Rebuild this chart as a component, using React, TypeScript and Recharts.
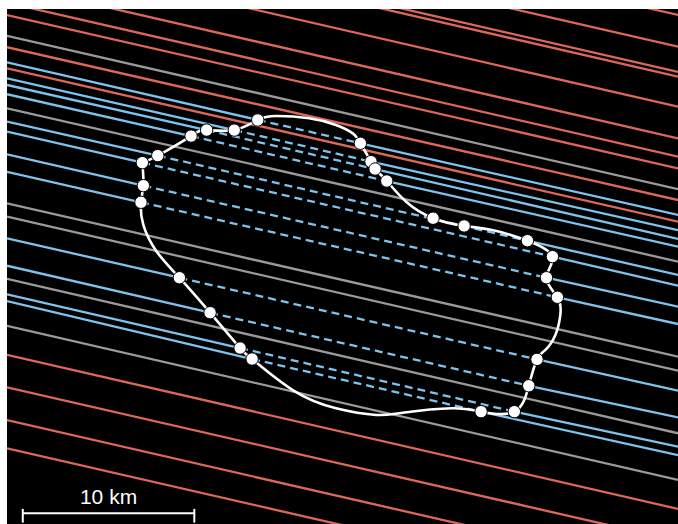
import {
  ComposedChart,
  Line,
  Scatter,
  XAxis,
  YAxis,
  CartesianGrid,
  ReferenceLine,
} from "recharts";

// plot frame in km (x to the right, y downwards)
const X_MAX = 39.12;
const Y_MAX = 30.03;

// chords: y (km) where each one meets the left and right edge
const redLeft = [-8.63, -6.78, -5.31, -5.04, -3.28, -1.44, -0.37, 0.35, 2.23, 3.46, 20.17, 22.06, 23.97, 25.62];
const redRight = [0.35, 2.2, 3.67, 3.94, 5.7, 7.54, 8.61, 9.29, 11.14, 12.4, 29.15, 31.02, 32.94, 34.58];
const grayLeft = [1.56, 5.79, 11.33, 12.11, 15.74, 18.48];
const grayRight = [10.51, 14.73, 20.27, 21.09, 24.74, 27.46];
const blueLeft = [3.11, 4.04, 4.43, 4.97, 6.57, 7.15, 8.47, 9.49, 13.37, 14.97, 16.64, 17.03];
const blueRight = [12.01, 12.89, 13.41, 13.86, 15.51, 16.13, 17.36, 18.37, 22.26, 23.81, 25.52, 26.01];

// disappearance / reappearance of the positive chords [x, y]
const ingress = [
  [14.62, 6.47], [13.25, 7.06], [11.64, 7.06], [10.73, 7.41], [8.79, 8.55], [7.89, 8.96],
  [7.95, 10.3], [7.81, 11.27], [10.05, 15.67], [11.84, 17.71], [13.59, 19.77], [14.29, 20.41],
];
const egress = [
  [20.6, 7.83], [21.22, 8.9], [21.46, 9.33], [22.14, 10.03], [30.34, 13.51], [31.8, 14.44],
  [31.45, 15.67], [32.09, 16.81], [30.9, 20.43], [30.42, 21.97], [29.58, 23.48], [27.64, 23.48],
];
const extraDots = [[24.84, 12.2], [26.65, 12.65]];

// shape outline, clockwise
const outlineX = [
  7.89, 8.79, 10.73, 11.64, 13.25, 14.62, 15.69, 17.61, 19.18, 20.16, 20.6, 21.22, 21.46, 22.14,
  23.27, 24.84, 26.65, 28.28, 30.34, 31.8, 31.45, 32.09, 32.26, 31.97, 31.39, 30.9, 30.42, 29.58,
  27.64, 25.95, 23.07, 21.52, 19.18, 16.66, 14.29, 13.59, 11.84, 10.05, 8.73, 7.95, 7.81, 7.95, 7.89,
];
const outlineY = [
  8.96, 8.55, 7.41, 7.06, 7.06, 6.47, 6.24, 6.37, 6.76, 7.25, 7.83, 8.9, 9.33, 10.03,
  11.24, 12.2, 12.65, 12.89, 13.51, 14.44, 15.67, 16.81, 17.84, 19.01, 19.88, 20.43, 21.97, 23.48,
  23.48, 23.28, 23.54, 23.67, 23.28, 22.22, 20.41, 19.77, 17.71, 15.67, 14.15, 12.59, 11.27, 10.3, 8.96,
];

const SCALE_KM = 10;
const SCALE_X0 = 0.92;
const SCALE_Y = 29.41;

const RED = "#dd6759";
const GRAY = "#9a9a9a";
const BLUE = "#7ec3ee";

const pt = (x: number, y: number) => ({ x, y });
const outline = outlineX.map((x, i) => pt(x, outlineY[i]));
const dots = [...ingress, ...egress, ...extraDots].map(([x, y]) => pt(x, y));

// eslint-disable-next-line @typescript-eslint/no-explicit-any
const Dot = (p: any) => <circle cx={p.cx} cy={p.cy} r={6.2} fill="#fff" stroke="#000" strokeWidth={1} />;

function chord(key: string, data: { x: number; y: number }[], color: string, dashed = false) {
  return (
    <Line
      key={key}
      data={data}
      dataKey="y"
      stroke={color}
      strokeWidth={2.3}
      strokeDasharray={dashed ? "8 5" : undefined}
      dot={false}
      activeDot={false}
      isAnimationActive={false}
    />
  );
}

export default function App() {
  return (
    <div style={{ position: "absolute", left: 0, top: 0, width: 678, height: 524, background: "#fff" }}>
      <ComposedChart width={678} height={524} margin={{ top: 9, right: 0, bottom: 0, left: 7 }}>
        <CartesianGrid fill="#000" fillOpacity={1} horizontal={false} vertical={false} stroke="none" />
        <XAxis type="number" dataKey="x" domain={[0, X_MAX]} allowDataOverflow hide />
        <YAxis type="number" dataKey="y" domain={[0, Y_MAX]} reversed allowDataOverflow hide />
        {redLeft.map((l, i) => chord(`r${i}`, [pt(0, l), pt(X_MAX, redRight[i])], RED))}
        {grayLeft.map((l, i) => chord(`g${i}`, [pt(0, l), pt(X_MAX, grayRight[i])], GRAY))}
        {blueLeft.map((l, i) => chord(`bl${i}`, [pt(0, l), pt(ingress[i][0], ingress[i][1])], BLUE))}
        {blueRight.map((r, i) => chord(`br${i}`, [pt(egress[i][0], egress[i][1]), pt(X_MAX, r)], BLUE))}
        {ingress.map((p, i) =>
          chord(`bd${i}`, [pt(p[0], p[1]), pt(egress[i][0], egress[i][1])], BLUE, true),
        )}
        <Line
          data={outline}
          dataKey="y"
          type="natural"
          stroke="#fff"
          strokeWidth={2.6}
          dot={false}
          activeDot={false}
          isAnimationActive={false}
        />
        <Scatter data={dots} dataKey="y" shape={Dot} isAnimationActive={false} />
        <ReferenceLine
          segment={[pt(SCALE_X0, SCALE_Y), pt(SCALE_X0 + SCALE_KM, SCALE_Y)]}
          stroke="#fff"
          strokeWidth={2}
          label={{
            value: `${SCALE_KM} km`,
            position: "top",
            offset: 9,
            fill: "#fff",
            fontSize: 21,
            fontFamily: "Liberation Sans, Arial, sans-serif",
          }}
        />
        <ReferenceLine segment={[pt(SCALE_X0, 29.15), pt(SCALE_X0, 29.95)]} stroke="#fff" strokeWidth={2} />
        <ReferenceLine
          segment={[pt(SCALE_X0 + SCALE_KM, 29.15), pt(SCALE_X0 + SCALE_KM, 29.95)]}
          stroke="#fff"
          strokeWidth={2}
        />
      </ComposedChart>
    </div>
  );
}
